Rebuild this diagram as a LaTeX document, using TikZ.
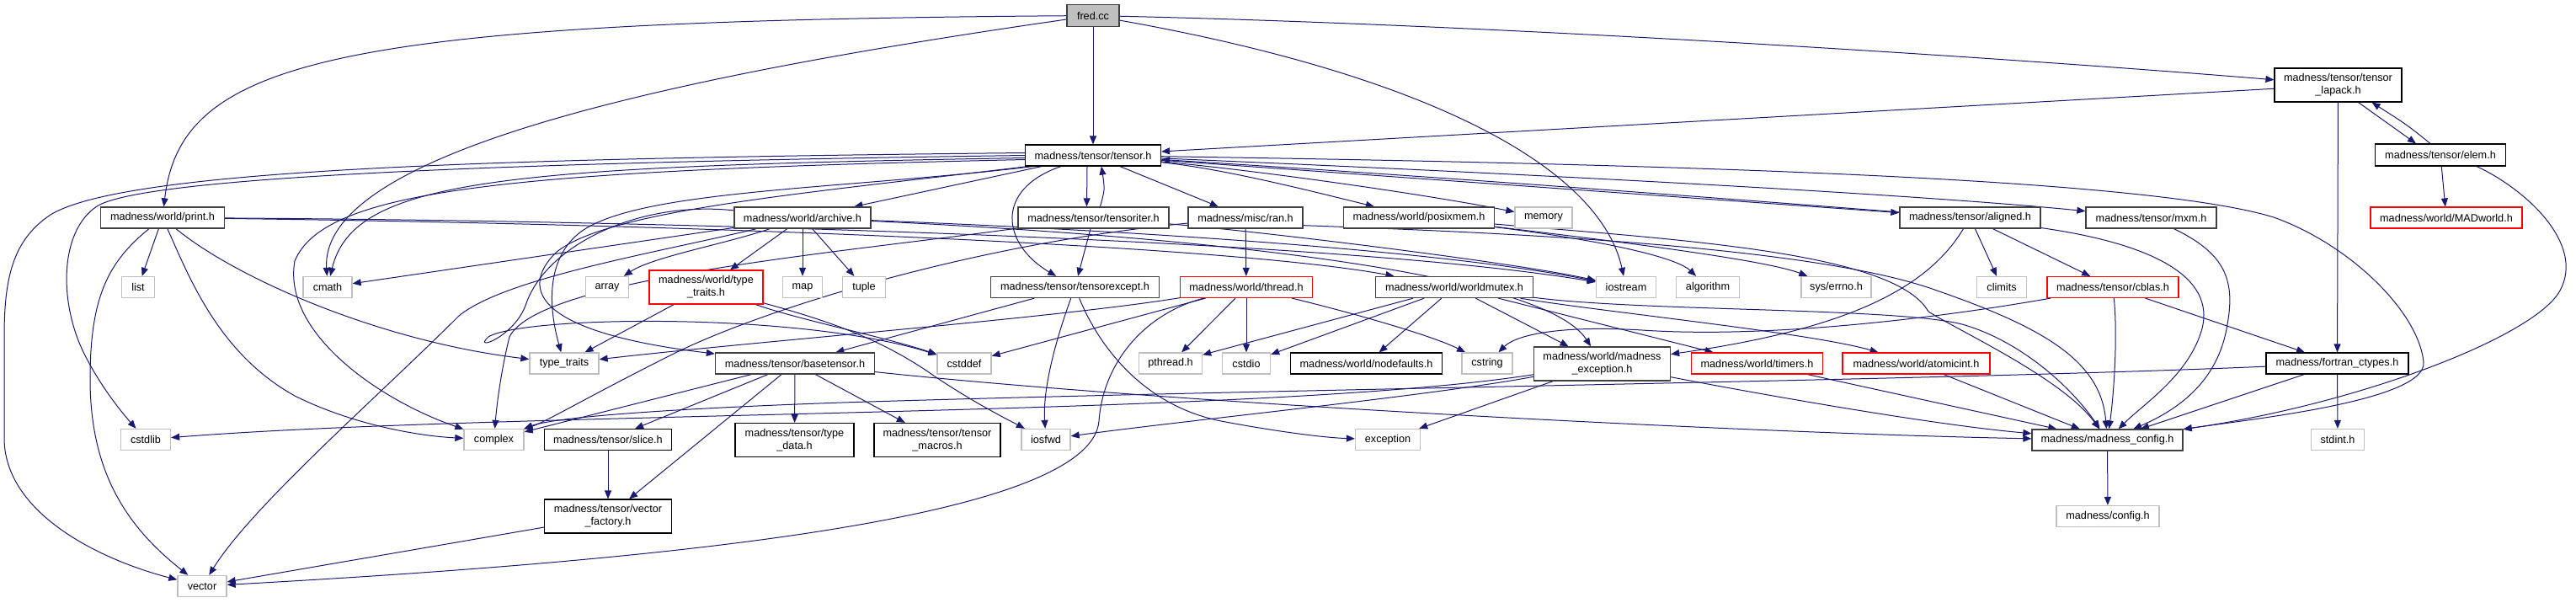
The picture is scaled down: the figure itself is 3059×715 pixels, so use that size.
\documentclass[tikz,border=0pt]{standalone}
\usepackage{fontspec}
\setmainfont{Liberation Sans}
\usetikzlibrary{arrows.meta,calc}
\pgfdeclarelayer{bg}
\pgfsetlayers{bg,main}
\definecolor{edgec}{HTML}{191970}
\definecolor{extc}{HTML}{BFBFBF}
\definecolor{dkc}{HTML}{404040}
\definecolor{rootfill}{HTML}{BFBFBF}
\begin{document}
\begin{tikzpicture}[x=0.75pt,y=-0.75pt,
  box/.style={rectangle, fill=white, inner sep=0pt, font=\fontsize{9.5}{11.25}\selectfont, align=center, minimum height=18.75pt},
  doc/.style={box, draw=black, line width=0.85pt},
  dk/.style={box, draw=dkc, line width=1pt},
  ext/.style={box, draw=extc, line width=1pt},
  trn/.style={box, draw=red, line width=0.85pt},
  bw/.style={minimum width=#1*0.75pt},
  bh/.style={minimum height=#1*0.75pt},
  e/.style={draw=edgec, line width=0.75pt, -{Triangle[length=7.5pt,width=6pt]}}]
\useasboundingbox (0,0) rectangle (3059,715);

% nodes
\node[dk,fill=rootfill,bw=62,bh=26] (fred) at (1298,18.5) {fred.cc};
\node[doc,bw=151,bh=40] (lapack) at (2776.5,101) {madness/tensor/tensor\\\_lapack.h};
\node[doc,bw=161] (tensor) at (1298,184.5) {madness/tensor/tensor.h};
\node[doc,bw=155,bh=26] (elem) at (2898,184) {madness/tensor/elem.h};
\node[dk,bw=147] (print) at (193,258.5) {madness/world/print.h};
\node[dk,bw=162] (archive) at (953,258.5) {madness/world/archive.h};
\node[dk,bw=179] (tensoriter) at (1298.5,258.5) {madness/tensor/tensoriter.h};
\node[dk,bw=136] (ran) at (1479,258.5) {madness/misc/ran.h};
\node[dk,bw=179] (posixmem) at (1685,258.5) {madness/world/posixmem.h};
\node[ext,bw=68] (memory) at (1833,258.5) {memory};
\node[dk,bw=167] (aligned) at (2339.5,258.5) {madness/tensor/aligned.h};
\node[dk,bw=155] (mxm) at (2554.5,258.5) {madness/tensor/mxm.h};
\node[trn,bw=180] (madworld) at (2905,258.5) {madness/world/MADworld.h};
\node[ext,bw=39] (list) at (164,341) {list};
\node[ext,bw=58] (cmath) at (389,341) {cmath};
\node[ext,bw=51] (array) at (721,341) {array};
\node[trn,bw=135,bh=40] (typetraitsh) at (838.5,341) {madness/world/type\\\_traits.h};
\node[ext,bw=47] (map) at (953,341) {map};
\node[ext,bw=51] (tuple) at (1026,341) {tuple};
\node[dk,bw=200] (tensorexcept) at (1276.5,341) {madness/tensor/tensorexcept.h};
\node[trn,bw=157] (thread) at (1480,341) {madness/world/thread.h};
\node[dk,bw=187] (worldmutex) at (1727,341) {madness/world/worldmutex.h};
\node[ext,bw=71] (iostream) at (1931,341) {iostream};
\node[ext,bw=75] (algorithm) at (2028,341) {algorithm};
\node[ext,bw=83] (errno) at (2180.5,341) {sys/errno.h};
\node[ext,bw=59] (climits) at (2377,341) {climits};
\node[trn,bw=156] (cblas) at (2509,341) {madness/tensor/cblas.h};
\node[ext,bw=82] (typetraits) at (670,431.5) {type\_traits};
\node[dk,bw=189] (basetensor) at (944,431.5) {madness/tensor/basetensor.h};
\node[ext,bw=64] (cstddef) at (1145,431.5) {cstddef};
\node[ext,bw=75] (pthread) at (1390,431.5) {pthread.h};
\node[ext,bw=57] (cstdio) at (1480,431.5) {cstdio};
\node[doc,bw=180] (nodefaults) at (1622.5,431.5) {madness/world/nodefaults.h};
\node[ext,bw=60] (cstring) at (1766,431.5) {cstring};
\node[dk,bw=162,bh=40] (mexc) at (1902.5,432) {madness/world/madness\\\_exception.h};
\node[trn,bw=156] (timers) at (2086.5,431.5) {madness/world/timers.h};
\node[trn,bw=175] (atomicint) at (2275.5,431.5) {madness/world/atomicint.h};
\node[doc,bw=169] (fortran) at (2775.5,431.5) {madness/fortran\_ctypes.h};
\node[ext,bw=59] (cstdlib) at (173,522) {cstdlib};
\node[ext,bw=71] (complex) at (586.5,522) {complex};
\node[doc,bw=151] (slice) at (722,522) {madness/tensor/slice.h};
\node[doc,bw=141,bh=40] (typedata) at (943.5,522.5) {madness/tensor/type\\\_data.h};
\node[doc,bw=150,bh=40] (tmacros) at (1113,522.5) {madness/tensor/tensor\\\_macros.h};
\node[ext,bw=58] (iosfwd) at (1242,522) {iosfwd};
\node[ext,bw=77] (exception) at (1648,522) {exception};
\node[dk,bw=179] (mconfig) at (2502.5,522.5) {madness/madness\_config.h};
\node[ext,bw=63] (stdint) at (2776,522) {stdint.h};
\node[doc,bw=151,bh=40] (vfactory) at (722,613) {madness/tensor/vector\\\_factory.h};
\node[ext,bw=122] (config) at (2503,613) {madness/config.h};
\node[ext,bw=58] (vector) at (240,696) {vector};

\begin{pgfonlayer}{bg}
% fred.cc
\draw[e] (fred) -- (tensor);
\draw[e] (fred) .. controls (1800,30) and (2400,70) .. (lapack);
\draw[e] (fred) .. controls (400,25) and (215,70) .. (print);
\draw[e] (fred) .. controls (800,90) and (380,180) .. (cmath);
\draw[e] (fred) .. controls (1700,90) and (1900,200) .. (iostream);
% tensor_lapack / elem
\draw[e] (lapack) -- (tensor);
\draw[e] ($(lapack.south)+(24,0)$) -- ($(elem.north)+(-29,0)$);
\draw[e] ($(elem.north)+(-12,0)$) .. controls (2858,148) .. ($(lapack.south)+(40,0)$);
\draw[e] (lapack) -- (fortran);
\draw[e] (elem) -- (madworld);
\draw[e] ($(elem.south)+(43,0)$) .. controls (3000,225) and (3070,290) .. (3040,345) .. controls (3010,400) and (2800,480) .. (mconfig);
% tensor.h
\draw[e] (tensor) -- (archive);
\draw[e] ($(tensor.south)+(-7,0)$) -- ($(tensoriter.north)+(-8,0)$);
\draw[e] ($(tensoriter.north)+(8,0)$) .. controls (1312,225) .. ($(tensor.south)+(10,0)$);
\draw[e] (tensor) -- (ran);
\draw[e] (tensor) .. controls (1450,200) and (1550,225) .. (posixmem);
\draw[e] (tensor) .. controls (1500,203) and (1700,232) .. (memory);
\draw[e] (tensor) -- (aligned);
\draw[e] (aligned) .. controls (1900,224) and (1600,203) .. (tensor);
\draw[e] (tensor) .. controls (1900,210) and (2300,233) .. (mxm);
\draw[e] (tensor) .. controls (2000,195) and (2550,212) .. (2700,258) .. controls (2790,290) and (2872,370) .. (2878,430) .. controls (2882,475) and (2680,497) .. (mconfig);
\draw[e] (tensor) .. controls (1180,225) and (1190,290) .. (tensorexcept);
\draw[e] (tensoriter) -- (tensorexcept);
\draw[e] ($(tensor.west)+(0,-3)$) .. controls (600,188) and (150,200) .. (60,255) .. controls (15,285) and (5,330) .. (5,400) -- (5,520) .. controls (5,610) and (120,665) .. (vector);
\draw[e] (tensor.west) .. controls (600,193) and (170,210) .. (115,245) .. controls (70,275) and (70,360) .. (100,420) .. controls (120,460) and (145,490) .. (cstdlib);
\draw[e] ($(tensor.west)+(0,3)$) .. controls (600,198) and (420,212) .. (cmath);
\draw[e] ($(tensor.west)+(0,5)$) .. controls (600,203) and (385,225) .. (350,310) .. controls (335,395) and (450,475) .. (complex);
\draw[e] ($(tensor.south west)+(10,0)$) .. controls (1000,225) and (760,225) .. (690,275) .. controls (650,305) and (650,360) .. (typetraits);
\draw[e] ($(tensor.south west)+(4,0)$) .. controls (950,230) and (720,250) .. (660,300) .. controls (615,345) and (640,395) .. (basetensor);
% print.h
\draw[e] (print) -- (list);
\draw[e] (print) .. controls (130,310) and (107,350) .. (107,450) .. controls (107,560) and (150,625) .. (vector);
\draw[e] (print) .. controls (225,330) and (260,420) .. (350,470) .. controls (420,505) and (500,518) .. (complex);
\draw[e] (print) .. controls (280,330) and (450,405) .. (typetraits);
\draw[e] (print) .. controls (800,262) and (1600,285) .. (iostream);
\draw[e] (print) .. controls (800,266) and (1450,290) .. (worldmutex);
% archive.h
\draw[e] (archive) -- (typetraitsh);
\draw[e] (archive) -- (map);
\draw[e] (archive) -- (tuple);
\draw[e] (archive) .. controls (860,290) and (775,305) .. (array);
\draw[e] (archive) -- (cmath);
\draw[e] (archive) .. controls (780,300) and (600,330) .. (545,375) .. controls (450,470) and (300,600) .. (vector);
\draw[e] (archive) .. controls (1300,272) and (1700,295) .. (iostream);
\draw[e] (archive) .. controls (1400,280) and (1830,320) .. (mexc);
\draw[e] (archive) .. controls (760,238) and (650,290) .. (625,360) .. controls (612,400) and (560,418) .. (580,400) .. controls (620,375) and (950,370) .. (cstddef);
% tensoriter.h
\draw[e] (tensoriter) .. controls (1000,300) and (640,330) .. (605,400) .. controls (595,440) and (590,480) .. (complex);
\draw[e] (tensoriter) .. controls (1500,275) and (1800,312) .. (iostream);
% ran.h
\draw[e] (ran) -- (thread);
\draw[e] (ran) .. controls (1150,290) and (900,370) .. (800,420) .. controls (700,470) and (650,500) .. (complex);
\draw[e] ($(ran.south east)+(0,-4)$) .. controls (1750,275) and (2150,290) .. (2300,345) .. controls (2430,390) and (2495,430) .. (mconfig);
% posixmem.h
\draw[e] (posixmem) .. controls (1950,290) and (2100,310) .. (errno);
\draw[e] (posixmem) .. controls (1900,285) and (1990,305) .. (algorithm);
\draw[e] (posixmem) .. controls (2000,285) and (2250,300) .. (2290,370) .. controls (2330,395) and (2450,450) .. (mconfig);
% aligned.h / mxm.h / cblas.h
\draw[e] (aligned) -- (climits);
\draw[e] (aligned) -- (cblas);
\draw[e] (aligned) .. controls (2560,290) and (2630,330) .. (2615,390) .. controls (2600,445) and (2545,480) .. (mconfig);
\draw[e] (aligned) .. controls (2290,340) and (2200,390) .. (mexc);
\draw[e] (mxm) .. controls (2640,300) and (2655,330) .. (2645,385) .. controls (2635,450) and (2590,485) .. (mconfig);
\draw[e] (cblas) -- (fortran);
\draw[e] (cblas) .. controls (2515,400) and (2510,470) .. (mconfig);
\draw[e] (cblas) .. controls (2300,378) and (2100,402) .. (1950,392) .. controls (1850,386) and (1800,398) .. (cstring);
% fortran_ctypes.h
\draw[e] (fortran) -- (stdint);
\draw[e] (fortran) -- (mconfig);
\draw[e] (fortran) .. controls (2300,452) and (1500,462) .. (1000,478) .. controls (800,485) and (660,495) .. (complex);
% thread.h
\draw[e] (thread) -- (pthread);
\draw[e] (thread) -- (cstdio);
\draw[e] (thread) -- (cstddef);
\draw[e] (thread) .. controls (1250,378) and (900,405) .. (typetraits);
\draw[e] (thread) .. controls (1360,372) and (1310,430) .. (1305,500) .. controls (1295,615) and (800,665) .. (vector);
\draw[e] (thread) .. controls (1600,370) and (1700,398) .. (cstring);
% worldmutex.h
\draw[e] (worldmutex) -- (pthread);
\draw[e] (worldmutex) -- (cstdio);
\draw[e] (worldmutex) -- (nodefaults);
\draw[e] (worldmutex) -- (mexc);
\draw[e] (worldmutex) -- (timers);
\draw[e] (worldmutex) .. controls (1900,370) and (2150,395) .. (atomicint);
\draw[e] (worldmutex) .. controls (1950,370) and (2250,365) .. (2330,385) .. controls (2400,405) and (2460,460) .. (mconfig);
% madness_exception.h, timers, atomicint
\draw[e] (mexc) -- (exception);
\draw[e] (mexc) .. controls (1700,470) and (1400,500) .. (iosfwd);
\draw[e] (mexc) .. controls (2100,470) and (2300,505) .. (mconfig);
\draw[e] (mexc) .. controls (1500,495) and (600,488) .. (cstdlib);
\draw[e] (timers) -- (mconfig);
\draw[e] (atomicint) -- (mconfig);
% tensorexcept.h
\draw[e] (tensorexcept) .. controls (1255,400) and (1238,460) .. (iosfwd);
\draw[e] (tensorexcept) .. controls (1300,400) and (1350,480) .. (1450,500) .. controls (1530,515) and (1580,520) .. (exception);
\draw[e] (tensorexcept) -- (basetensor);
% basetensor.h
\draw[e] (basetensor) -- (slice);
\draw[e] (basetensor) -- (typedata);
\draw[e] (basetensor) -- (tmacros);
\draw[e] (basetensor) -- (vfactory);
\draw[e] (basetensor) -- (complex);
\draw[e] (basetensor) .. controls (1400,480) and (2100,515) .. (mconfig);
% type_traits.h
\draw[e] (typetraitsh) -- (typetraits);
\draw[e] (typetraitsh) .. controls (950,380) and (1050,400) .. (cstddef);
\draw[e] (typetraitsh) .. controls (980,380) and (1040,400) .. (1100,440) .. controls (1150,475) and (1200,500) .. (iosfwd);
% rest
\draw[e] (slice) -- (vfactory);
\draw[e] (vfactory) -- (vector);
\draw[e] (mconfig) -- (config);
\end{pgfonlayer}
\end{tikzpicture}
\end{document}
